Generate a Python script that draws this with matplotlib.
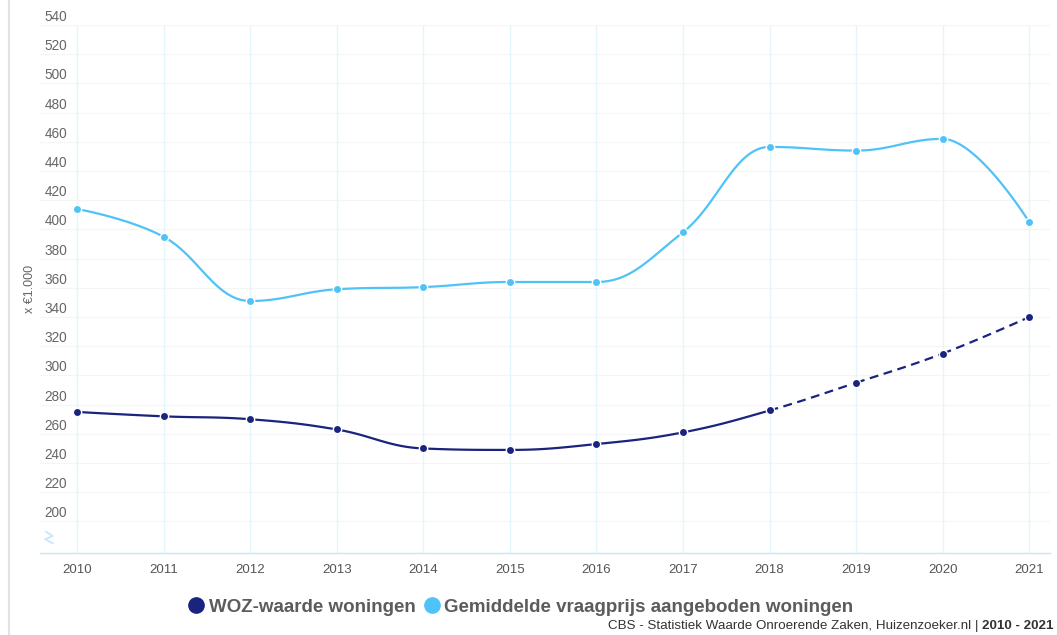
import numpy as np
import matplotlib
matplotlib.use("Agg")
import matplotlib.pyplot as plt
from matplotlib.lines import Line2D
from matplotlib.transforms import ScaledTranslation, blended_transform_factory

plt.rcParams['font.family'] = ['Liberation Sans', 'DejaVu Sans']

years = [2010, 2011, 2012, 2013, 2014, 2015, 2016, 2017, 2018, 2019, 2020, 2021]
woz = [275, 272, 270, 263, 250, 249, 253, 261, 276, 295, 315, 340]
vraagprijs = [414, 395, 351, 359, 360.5, 364, 364, 398, 456.5, 454, 462, 405]
woz_name = "WOZ-waarde woningen"
vraag_name = "Gemiddelde vraagprijs aangeboden woningen"
dash_from = 2018
yticks = list(range(200, 541, 20))
source = "CBS - Statistiek Waarde Onroerende Zaken, Huizenzoeker.nl | "
period = "2010 - 2021"

dark = "#1a237e"
light = "#4fc3f7"


def spline_segments(x, y, smoothing=1.5, n=40):
    # highcharts style spline: control points per point, clamped against overshoot
    x = np.asarray(x, float)
    y = np.asarray(y, float)
    k = len(x)
    lc = np.column_stack([x, y]).copy()
    rc = np.column_stack([x, y]).copy()
    d = smoothing + 1
    for i in range(1, k - 1):
        lx = (smoothing * x[i] + x[i - 1]) / d
        ly = (smoothing * y[i] + y[i - 1]) / d
        rx = (smoothing * x[i] + x[i + 1]) / d
        ry = (smoothing * y[i] + y[i + 1]) / d
        corr = (ry - ly) * (rx - x[i]) / (rx - lx) + y[i] - ry
        ly += corr
        ry += corr
        if ly > y[i - 1] and ly > y[i]:
            ly = max(y[i - 1], y[i]); ry = 2 * y[i] - ly
        elif ly < y[i - 1] and ly < y[i]:
            ly = min(y[i - 1], y[i]); ry = 2 * y[i] - ly
        if ry > y[i + 1] and ry > y[i]:
            ry = max(y[i + 1], y[i]); ly = 2 * y[i] - ry
        elif ry < y[i + 1] and ry < y[i]:
            ry = min(y[i + 1], y[i]); ly = 2 * y[i] - ry
        lc[i] = (lx, ly)
        rc[i] = (rx, ry)
    t = np.linspace(0, 1, n)[:, None]
    segs = []
    for i in range(k - 1):
        p0 = np.array([x[i], y[i]])
        p3 = np.array([x[i + 1], y[i + 1]])
        p1 = rc[i]
        p2 = lc[i + 1]
        pts = (1 - t) ** 3 * p0 + 3 * (1 - t) ** 2 * t * p1 + 3 * (1 - t) * t ** 2 * p2 + t ** 3 * p3
        segs.append(pts)
    return segs


fig = plt.figure(figsize=(10.57, 6.35), dpi=100)
ax = fig.add_axes([40 / 1057, 1 - 553 / 635, 1010 / 1057, 528 / 635])
ax.set_xlim(2009.573, 2021.24)
ax.set_ylim(178.4, 540)

for s in ["top", "right", "left"]:
    ax.spines[s].set_visible(False)
ax.spines["bottom"].set_color("#c6e6f5")
ax.spines["bottom"].set_linewidth(1)

for v in yticks:
    ax.axhline(v, color="#f5f5f5", lw=0.8, zorder=0)
for yr in years:
    ax.axvline(yr, color="#e3f5fd", lw=1, zorder=0)

ax.set_yticks([])
ax.set_xticks(years)
ax.set_xticklabels([str(v) for v in years])
ax.tick_params(axis="x", length=0, pad=8, labelsize=9.5, labelcolor="#555555")

lab_tr = blended_transform_factory(ax.transAxes, ax.transData) + ScaledTranslation(0, 8 / 100, fig.dpi_scale_trans)
for v in yticks:
    ax.text(27 / 1010, v, str(v), transform=lab_tr, ha="right", va="center",
            fontsize=9.8, color="#666666")

# axis break mark
ax.add_line(Line2D([6 / 1010, 12.7 / 1010, 5 / 1010, 12.7 / 1010], [0.0403, 0.0322, 0.026, 0.0184],
                   transform=ax.transAxes, color="#c6e6f5", lw=1.2, clip_on=False))

fig.text(30 / 1057, 1 - 289 / 635, "x €1.000", rotation=90, ha="center", va="center",
         fontsize=9, color="#666666")

# light series
for seg in spline_segments(years, vraagprijs):
    ax.plot(seg[:, 0], seg[:, 1], color=light, lw=1.6, solid_capstyle="round", zorder=3)
ax.plot(years, vraagprijs, "o", color=light, ms=6, mec="white", mew=1, zorder=4)

# dark series, dashed from dash_from
for seg, yr in zip(spline_segments(years, woz), years[:-1]):
    if yr >= dash_from:
        ax.plot(seg[:, 0], seg[:, 1], color=dark, lw=1.6, ls=(0, (4, 2.5)), zorder=3)
    else:
        ax.plot(seg[:, 0], seg[:, 1], color=dark, lw=1.6, solid_capstyle="round", zorder=3)
ax.plot(years, woz, "o", color=dark, ms=6, mec="white", mew=1, zorder=4)

handles = [Line2D([], [], ls="none", marker="o", ms=11, color=dark),
           Line2D([], [], ls="none", marker="o", ms=11, color=light)]
fig.legend(handles, [woz_name, vraag_name], loc="center", bbox_to_anchor=(0.494, 1 - 607 / 635),
           ncol=2, frameon=False, handlelength=0.6, handletextpad=0.35, columnspacing=0.6,
           prop={"size": 13.5, "weight": "bold"}, labelcolor="#5c5c5c")

# left border line
fig.add_artist(Line2D([9 / 1057, 9 / 1057], [0, 1], transform=fig.transFigure, color="#e2e2e2", lw=1.5))

bold = fig.text(1054 / 1057, 1 - 632 / 635, period, ha="right", va="bottom", fontsize=9.6,
                fontweight="bold", color="#333333")
fig.canvas.draw()
bb = bold.get_window_extent()
fig.text(bb.x0 / fig.bbox.width, 1 - 632 / 635, source, ha="right", va="bottom", fontsize=9.6,
         color="#333333")

fig.savefig("out.png", dpi=100)
